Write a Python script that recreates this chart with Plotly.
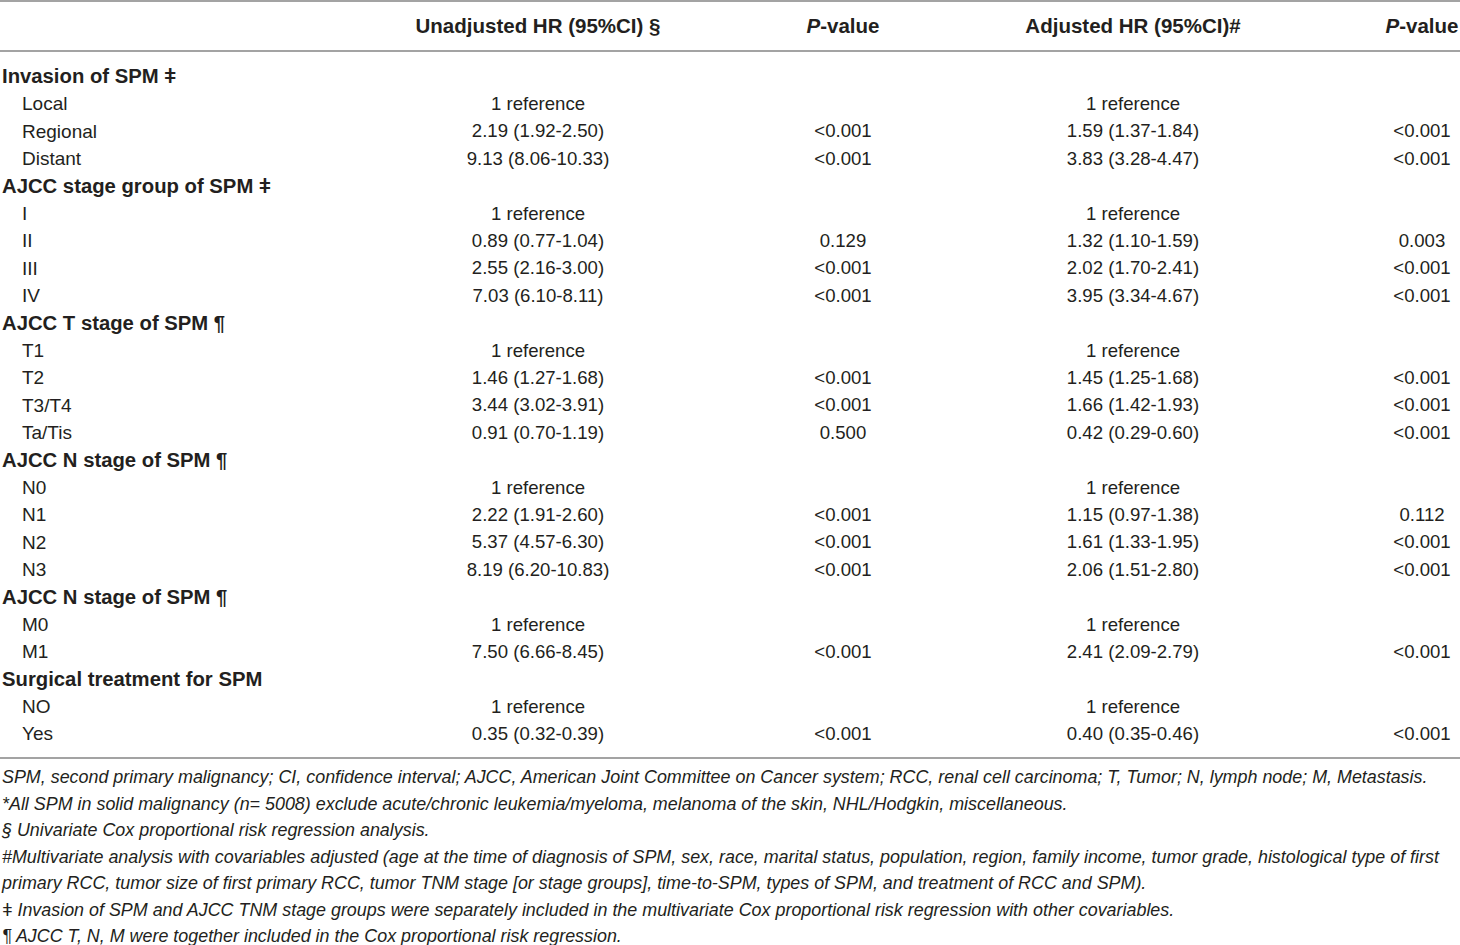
"""
plot.py
-------
Tabla de HR (Cox) para SPM, dibujada con Plotly a partir de listas simples.
"""

import plotly.graph_objects as go

# ─────────────────────────────────────────────
# Datos
# ─────────────────────────────────────────────

headers = ["", "Unadjusted HR (95%CI) §", "<i>P</i>-value", "Adjusted HR (95%CI)#", "<i>P</i>-value"]

row_labels = [
    "Invasion of SPM ǂ", "Local", "Regional", "Distant",
    "AJCC stage group of SPM ǂ", "I", "II", "III", "IV",
    "AJCC T stage of SPM ¶", "T1", "T2", "T3/T4", "Ta/Tis",
    "AJCC N stage of SPM ¶", "N0", "N1", "N2", "N3",
    "AJCC N stage of SPM ¶", "M0", "M1",
    "Surgical treatment for SPM", "NO", "Yes",
]
is_group = [
    1, 0, 0, 0,
    1, 0, 0, 0, 0,
    1, 0, 0, 0, 0,
    1, 0, 0, 0, 0,
    1, 0, 0,
    1, 0, 0,
]
unadj_hr = [
    "", "1 reference", "2.19 (1.92-2.50)", "9.13 (8.06-10.33)",
    "", "1 reference", "0.89 (0.77-1.04)", "2.55 (2.16-3.00)", "7.03 (6.10-8.11)",
    "", "1 reference", "1.46 (1.27-1.68)", "3.44 (3.02-3.91)", "0.91 (0.70-1.19)",
    "", "1 reference", "2.22 (1.91-2.60)", "5.37 (4.57-6.30)", "8.19 (6.20-10.83)",
    "", "1 reference", "7.50 (6.66-8.45)",
    "", "1 reference", "0.35 (0.32-0.39)",
]
unadj_p = [
    "", "", "<0.001", "<0.001",
    "", "", "0.129", "<0.001", "<0.001",
    "", "", "<0.001", "<0.001", "0.500",
    "", "", "<0.001", "<0.001", "<0.001",
    "", "", "<0.001",
    "", "", "<0.001",
]
adj_hr = [
    "", "1 reference", "1.59 (1.37-1.84)", "3.83 (3.28-4.47)",
    "", "1 reference", "1.32 (1.10-1.59)", "2.02 (1.70-2.41)", "3.95 (3.34-4.67)",
    "", "1 reference", "1.45 (1.25-1.68)", "1.66 (1.42-1.93)", "0.42 (0.29-0.60)",
    "", "1 reference", "1.15 (0.97-1.38)", "1.61 (1.33-1.95)", "2.06 (1.51-2.80)",
    "", "1 reference", "2.41 (2.09-2.79)",
    "", "1 reference", "0.40 (0.35-0.46)",
]
adj_p = [
    "", "", "<0.001", "<0.001",
    "", "", "0.003", "<0.001", "<0.001",
    "", "", "<0.001", "<0.001", "<0.001",
    "", "", "0.112", "<0.001", "<0.001",
    "", "", "<0.001",
    "", "", "<0.001",
]

footnotes = [
    "SPM, second primary malignancy; CI, confidence interval; AJCC, American Joint Committee on Cancer system; RCC, renal cell carcinoma; T, Tumor; N, lymph node; M, Metastasis.",
    "*All SPM in solid malignancy (n= 5008) exclude acute/chronic leukemia/myeloma, melanoma of the skin, NHL/Hodgkin, miscellaneous.",
    "§ Univariate Cox proportional risk regression analysis.",
    "#Multivariate analysis with covariables adjusted (age at the time of diagnosis of SPM, sex, race, marital status, population, region, family income, tumor grade, histological type of first",
    "primary RCC, tumor size of first primary RCC, tumor TNM stage [or stage groups], time-to-SPM, types of SPM, and treatment of RCC and SPM).",
    "ǂ Invasion of SPM and AJCC TNM stage groups were separately included in the multivariate Cox proportional risk regression with other covariables.",
    "¶ AJCC T, N, M were together included in the Cox proportional risk regression.",
]

# ─────────────────────────────────────────────
# Layout de la tabla
# ─────────────────────────────────────────────

W, H = 1460, 945
FONT = "Liberation Sans, Arial, sans-serif"
INK = "#231f20"
RULE = "#a3a3a3"

col_x = [2, 538, 843, 1133, 1422]
header_y = 27.5
row_y0, row_step = 78, 27.4
foot_y0, foot_step = 779, 26.5

row_y = [row_y0 + i * row_step for i in range(len(row_labels))]
foot_y = [foot_y0 + i * foot_step for i in range(len(footnotes))]

fig = go.Figure()

# Encabezado
fig.add_trace(go.Scatter(
    x=col_x[1:], y=[header_y] * 4,
    text=[f"<b>{h}</b>" for h in headers[1:]],
    mode="text", textposition="middle center",
    textfont=dict(family=FONT, size=20.5, color=INK),
))

# Etiquetas de fila
fig.add_trace(go.Scatter(
    x=[col_x[0] if g else col_x[0] + 20 for g in is_group],
    y=row_y,
    text=[f"<b>{lab}</b>" if g else lab for lab, g in zip(row_labels, is_group)],
    mode="text", textposition="middle right",
    textfont=dict(family=FONT, size=[20.3 if g else 19 for g in is_group], color=INK),
))

# Columnas de valores
for cx, col in zip(col_x[1:], [unadj_hr, unadj_p, adj_hr, adj_p]):
    fig.add_trace(go.Scatter(
        x=[cx] * len(col), y=row_y, text=col,
        mode="text", textposition="middle center",
        textfont=dict(family=FONT, size=18.6, color=INK),
    ))

# Notas al pie
fig.add_trace(go.Scatter(
    x=[col_x[0]] * len(footnotes), y=foot_y,
    text=[f"<i>{t}</i>" for t in footnotes],
    mode="text", textposition="middle right",
    textfont=dict(family=FONT, size=17.9, color=INK),
))

# Reglas horizontales
for yy in [1, 51, 758]:
    fig.add_shape(type="line", x0=0, x1=W, y0=yy, y1=yy,
                  xref="x", yref="y", line=dict(color=RULE, width=2))

fig.update_traces(cliponaxis=False, hoverinfo="skip", showlegend=False)
fig.update_xaxes(range=[0, W], visible=False, fixedrange=True)
fig.update_yaxes(range=[H, 0], visible=False, fixedrange=True)
fig.update_layout(
    width=W, height=H,
    margin=dict(l=0, r=0, t=0, b=0),
    paper_bgcolor="white", plot_bgcolor="white",
)

# sin margen del <body> para que la figura ocupe toda la ventana
fig.write_html(
    "out.html",
    config={"displayModeBar": False},
    post_script="document.body.style.margin='0';",
)
